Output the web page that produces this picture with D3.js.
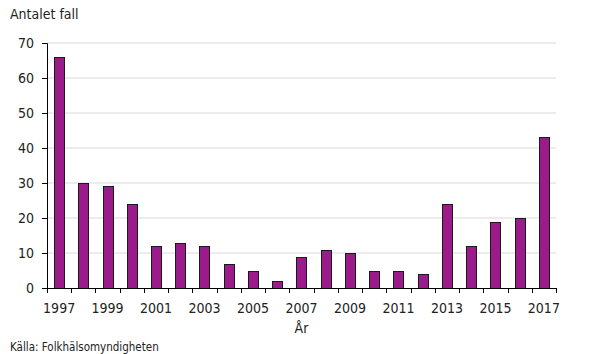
<!DOCTYPE html>
<html lang="sv">
  <head>
    <meta charset="UTF-8" />
    <title>Antalet fall per år</title>
    <script src="https://d3js.org/d3.v7.min.js"></script>
    <style>
      body { margin: 0; background: #fff; }
      svg text { font-family: "DejaVu Sans Condensed", "DejaVu Sans", Verdana, sans-serif; fill: #222; }
    </style>
  </head>
  <body>
    <svg id="chart" width="590" height="354"></svg>
    <script>
      const years = [1997, 1998, 1999, 2000, 2001, 2002, 2003, 2004, 2005, 2006, 2007,
        2008, 2009, 2010, 2011, 2012, 2013, 2014, 2015, 2016, 2017];
      const cases = [66, 30, 29, 24, 12, 13, 12, 7, 5, 2, 9, 11, 10, 5, 5, 4, 24, 12, 19, 20, 43];
      const yTicks = [0, 10, 20, 30, 40, 50, 60, 70];

      const svg = d3.select("#chart"),
        margin = { top: 43, right: 34, bottom: 66, left: 47 },
        width = +svg.attr("width") - margin.left - margin.right,
        height = +svg.attr("height") - margin.top - margin.bottom,
        chart = svg.append("g").attr("transform", `translate(${margin.left},${margin.top})`);

      const x = d3.scaleBand().domain(years).range([0, width]).paddingInner(0.58).paddingOuter(0.29);
      const y = d3.scaleLinear().domain([0, 70]).range([height, 0]);

      // gridlines
      chart.append("g")
        .selectAll("line")
        .data(yTicks.filter((d) => d > 0))
        .enter()
        .append("line")
        .attr("x1", 0)
        .attr("x2", width)
        .attr("y1", (d) => y(d))
        .attr("y2", (d) => y(d))
        .attr("stroke", "#d9d9d9")
        .attr("stroke-width", 1);

      // bars
      chart.append("g")
        .selectAll("rect")
        .data(years.map((yr, i) => ({ year: yr, value: cases[i] })))
        .enter()
        .append("rect")
        .attr("x", (d) => Math.round(x(d.year)) + 0.5)
        .attr("y", (d) => Math.round(y(d.value)) + 0.5)
        .attr("width", Math.round(x.bandwidth()))
        .attr("height", (d) => Math.round(height) - Math.round(y(d.value)))
        .attr("fill", "#9b1b8b")
        .attr("stroke", "#1a1a1a")
        .attr("stroke-width", 1);

      // y axis
      const yAxis = chart.append("g")
        .call(d3.axisLeft(y).tickValues(yTicks).tickSize(5).tickPadding(8));
      yAxis.select(".domain").attr("stroke", "#000");
      yAxis.selectAll(".tick line").attr("stroke", "#000");
      yAxis.selectAll("text").style("font-size", "14px");

      // x axis: ticks at category boundaries
      const step = x.step();
      const xAxisG = chart.append("g").attr("transform", `translate(0,${height})`);
      xAxisG.append("line")
        .attr("x1", 0).attr("x2", width)
        .attr("y1", 0.5).attr("y2", 0.5)
        .attr("stroke", "#000");
      xAxisG.selectAll("line.tk")
        .data(d3.range(years.length + 1))
        .enter()
        .append("line")
        .attr("class", "tk")
        .attr("x1", (i) => Math.round(i * step) + 0.5)
        .attr("x2", (i) => Math.round(i * step) + 0.5)
        .attr("y1", 0)
        .attr("y2", 5)
        .attr("stroke", "#000");
      xAxisG.selectAll("text")
        .data(years.filter((d) => d % 2 === 1))
        .enter()
        .append("text")
        .attr("x", (d) => x(d) + x.bandwidth() / 2)
        .attr("y", 25)
        .attr("text-anchor", "middle")
        .style("font-size", "14px")
        .text((d) => d);

      svg.append("text")
        .attr("x", 10).attr("y", 19)
        .style("font-size", "14px")
        .text("Antalet fall");

      svg.append("text")
        .attr("x", margin.left + width / 2).attr("y", 333)
        .attr("text-anchor", "middle")
        .style("font-size", "14px")
        .text("År");

      svg.append("text")
        .attr("x", 10).attr("y", 351)
        .style("font-size", "11.5px")
        .text("Källa:  Folkhälsomyndigheten");
    </script>
  </body>
</html>
